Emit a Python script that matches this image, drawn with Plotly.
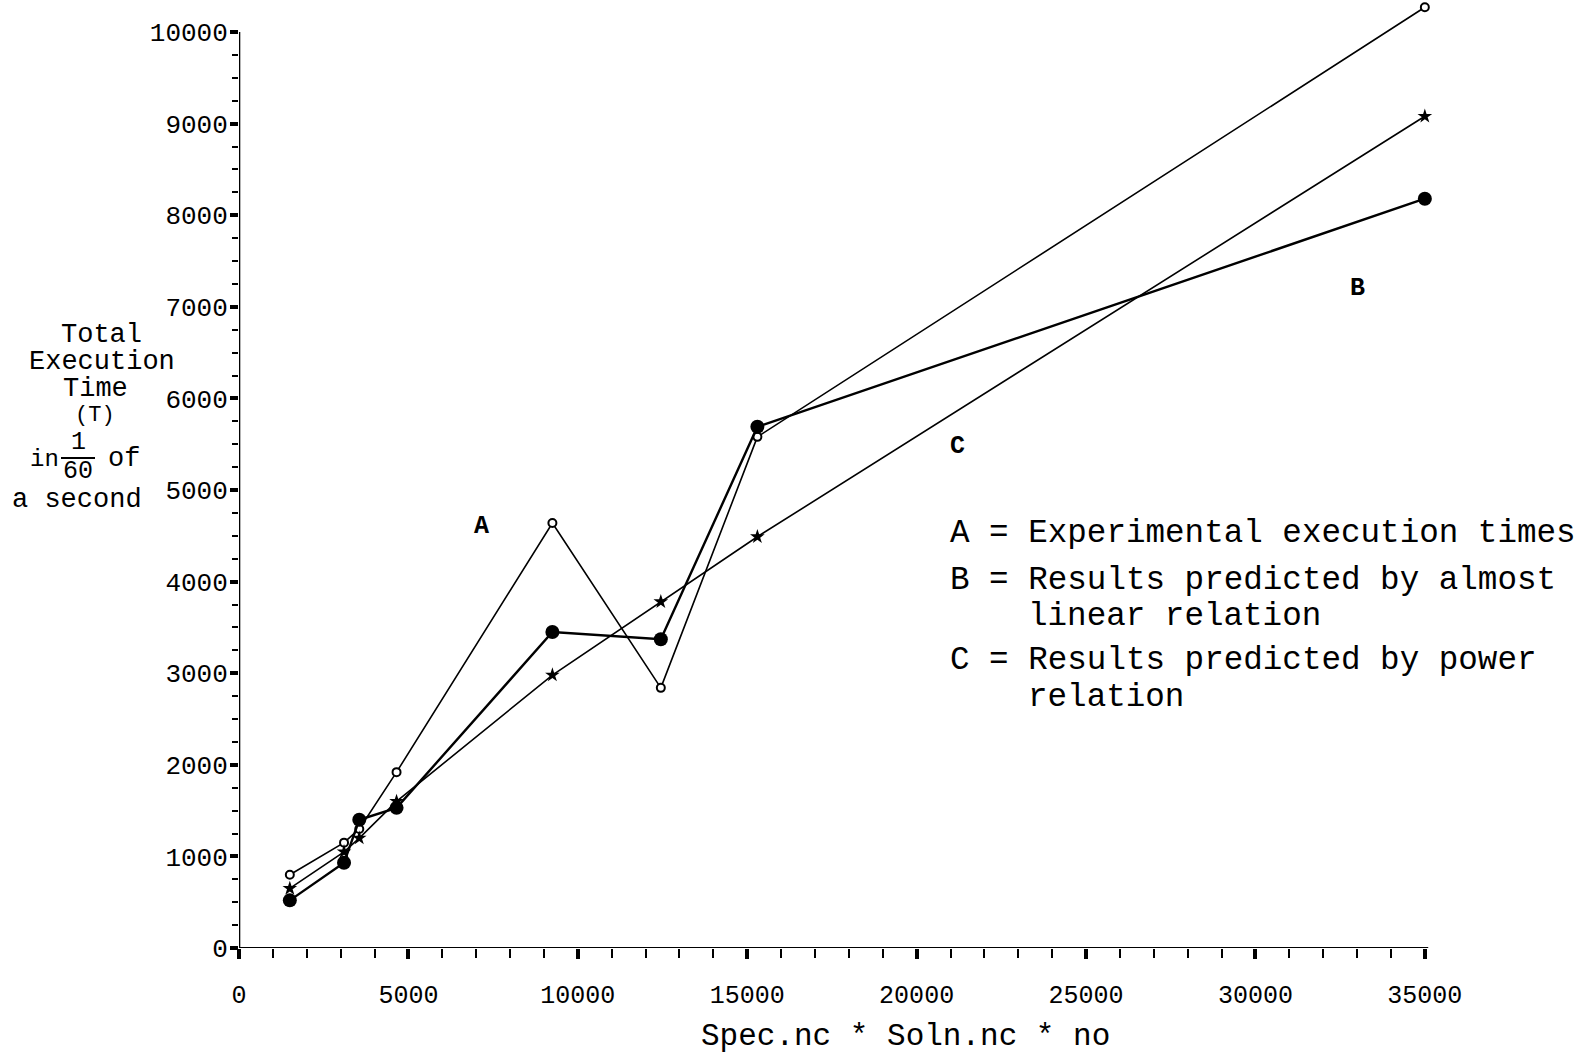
import plotly.graph_objects as go

# ---- data ----
x_vals = [1500, 3100, 3550, 4650, 9250, 12450, 15300, 35000]
series_a = [800, 1150, 1300, 1920, 4640, 2840, 5580, 10270]   # experimental
series_b = [520, 930, 1400, 1530, 3450, 3370, 5690, 8180]     # almost linear relation
series_c = [650, 1050, 1200, 1600, 2980, 3780, 4490, 9080]    # power relation

x_ticks = [0, 5000, 10000, 15000, 20000, 25000, 30000, 35000]
x_tick_text = ["0", "5000", "10000", "15000", "20000", "25000", "30000", "35000"]
y_ticks = [0, 1000, 2000, 3000, 4000, 5000, 6000, 7000, 8000, 9000, 10000]
y_tick_text = [str(v) for v in y_ticks]

legend_lines = [
    "A = Experimental execution times",
    "B = Results predicted by almost",
    "linear relation",
    "C = Results predicted by power",
    "relation",
]

W, H = 1595, 1056
L, R, T, B = 239, 1435, 2, 948
MONO = "Liberation Mono, Courier New, monospace"


def px(x):
    return (x - L) / (R - L)


def py(y):
    return (B - y) / (B - T)


fig = go.Figure()

fig.add_trace(go.Scatter(
    x=x_vals, y=series_a, mode="lines+markers", name="A",
    line=dict(color="black", width=1.6),
    marker=dict(symbol="circle", size=8, color="white", line=dict(color="black", width=2)),
    cliponaxis=False,
))
fig.add_trace(go.Scatter(
    x=x_vals, y=series_b, mode="lines+markers", name="B",
    line=dict(color="black", width=2.4),
    marker=dict(symbol="circle", size=14, color="black"),
    cliponaxis=False,
))
fig.add_trace(go.Scatter(
    x=x_vals, y=series_c, mode="lines+markers", name="C",
    line=dict(color="black", width=1.6),
    marker=dict(symbol="star", size=11, color="black"),
    cliponaxis=False,
))

minor_x = [v for v in range(1000, 35000, 1000) if v % 5000 != 0]
minor_y = [v for v in range(250, 10000, 250) if v % 1000 != 0]

fig.update_xaxes(
    range=[0, 35300], showgrid=False, zeroline=False, showline=False,
    ticks="outside", tickvals=x_ticks, ticktext=x_tick_text,
    ticklen=10, tickwidth=3.5, tickcolor="black",
    ticklabelstandoff=14,
    tickfont=dict(family=MONO, size=25, color="black"),
    minor=dict(tickmode="array", tickvals=minor_x, ticks="outside",
               ticklen=9, tickwidth=1.6, tickcolor="black", showgrid=False),
)
fig.update_yaxes(
    range=[0, 10000 * (B - T) / 916], showgrid=False, zeroline=False, showline=False,
    ticks="outside", tickvals=y_ticks, ticktext=y_tick_text,
    ticklen=8, tickwidth=3.5, tickcolor="black",
    ticklabelstandoff=-3,
    tickfont=dict(family=MONO, size=26, color="black"),
    minor=dict(tickmode="array", tickvals=minor_y, ticks="outside",
               ticklen=6, tickwidth=1.6, tickcolor="black", showgrid=False),
)

# axis lines
fig.add_shape(type="line", xref="x", yref="y", x0=0, y0=0, x1=35100, y1=0,
              line=dict(color="black", width=2.2))
fig.add_shape(type="line", xref="x", yref="y", x0=0, y0=0, x1=0, y1=10000,
              line=dict(color="black", width=2.6))

ann = []


def text(s, x, y, size, xanchor="center", bold=False):
    ann.append(dict(
        text=("<b>%s</b>" % s) if bold else s,
        x=px(x), y=py(y), xref="paper", yref="paper",
        xanchor=xanchor, yanchor="middle", showarrow=False,
        font=dict(family=MONO, size=size, color="black"),
    ))


# y-axis title (multi-line, with fraction)
text("Total", 101, 335, 27)
text("Execution", 102, 362, 27)
text("Time", 95, 389, 27)
text("(T)", 95, 416, 22)
text("in", 44, 459, 24)
text("1", 78, 443, 25)
text("60", 78, 472, 25)
text("of", 124, 459, 27)
text("a second", 77, 500, 27)
fig.add_shape(type="line", xref="paper", yref="paper",
              x0=px(61), x1=px(95), y0=py(458), y1=py(458),
              line=dict(color="black", width=2.2))

# x-axis title
text("Spec.nc * Soln.nc * no", 905, 1036, 31)

# series labels
text("A", 481, 526, 25, bold=True)
text("B", 1357, 288, 25, bold=True)
text("C", 957, 446, 25, bold=True)

# legend text block
LS = 32.6
text(legend_lines[0], 948, 533, LS, xanchor="left")
text(legend_lines[1], 948, 580, LS, xanchor="left")
text(legend_lines[2], 1026, 617, LS, xanchor="left")
text(legend_lines[3], 948, 660, LS, xanchor="left")
text(legend_lines[4], 1026, 697, LS, xanchor="left")

fig.update_layout(
    width=W, height=H,
    margin=dict(l=L, r=W - R, t=T, b=H - B),
    paper_bgcolor="white", plot_bgcolor="white",
    showlegend=False,
    annotations=ann,
)

fig.write_html("out.html", config={"displayModeBar": False},
               post_script="document.body.style.margin='0';")
